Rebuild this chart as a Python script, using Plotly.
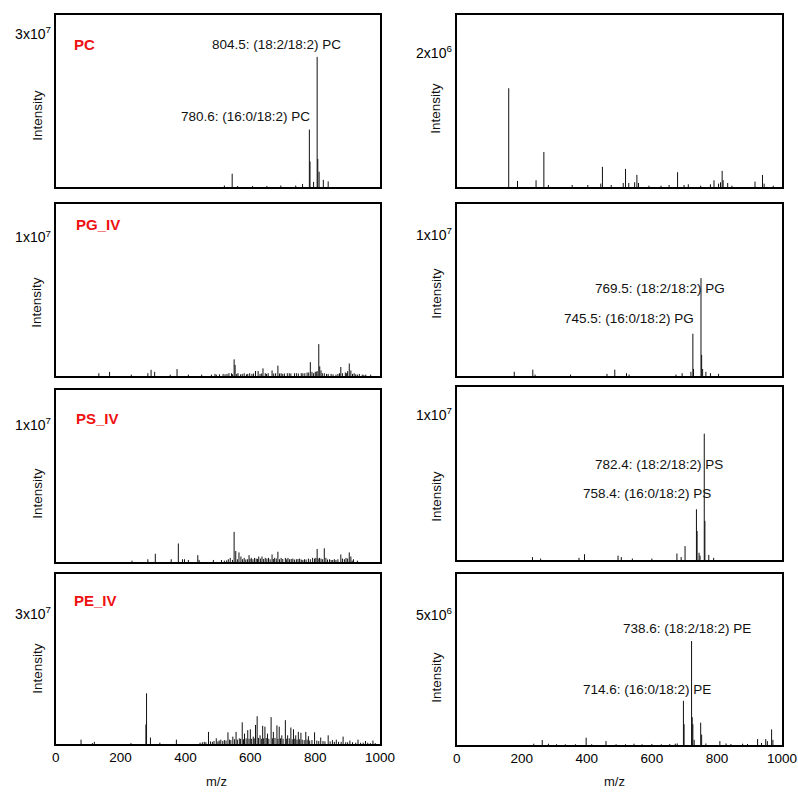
import plotly.graph_objects as go

W, H = 798, 792
# the page renders the figure about 15 px narrower than the window; positions below are
# given in window pixels and converted with the effective drawing width
W_EFF = 783

# ---------------- data: m/z positions and intensities ----------------
# Left column
pc_mz = [520, 544, 561, 607, 651, 694, 740, 761, 782, 784, 795, 806, 808, 812, 825, 840]
pc_int = [0.03e7, 0.26e7, 0.02e7, 0.02e7, 0.02e7, 0.03e7, 0.03e7, 0.06e7, 1.125e7, 0.5e7,
          0.1e7, 2.55e7, 0.55e7, 0.3e7, 0.14e7, 0.11e7]

pg_iv_mz = [133, 166, 233, 284, 294, 305, 353, 374, 409, 450, 491, 516, 534, 542, 550, 553,
            562, 581, 598, 616, 624, 639, 646, 667, 685, 700, 714, 736, 757, 775, 785, 790,
            803, 811, 814, 818, 828, 849, 864, 879, 884, 900, 905, 910, 920, 936, 956, 971]
pg_iv_int = [v * 1e7 for v in [0.02, 0.03, 0.01, 0.02, 0.045, 0.03, 0.01, 0.05, 0.01, 0.01,
                               0.015, 0.015, 0.02, 0.02, 0.12, 0.08, 0.02, 0.02, 0.02, 0.036,
                               0.036, 0.055, 0.02, 0.04, 0.075, 0.015, 0.02, 0.02, 0.02, 0.025,
                               0.1, 0.03, 0.03, 0.23, 0.07, 0.04, 0.02, 0.015, 0.01, 0.065,
                               0.02, 0.035, 0.09, 0.04, 0.02, 0.015, 0.01, 0.01]]
pg_iv_grass_mz = [480, 495, 505, 522, 528, 545, 558, 570, 575, 588, 592, 605, 610, 630, 635,
                  650, 655, 672, 678, 690, 695, 705, 720, 725, 742, 748, 762, 768, 780, 795,
                  800, 806, 822, 835, 840, 855, 870, 875, 893, 897, 915, 925, 930, 945, 950]
pg_iv_grass_int = [v * 1e7 for v in [0.01, 0.01, 0.012, 0.012, 0.015, 0.012, 0.015, 0.012,
                                     0.015, 0.012, 0.015, 0.015, 0.018, 0.015, 0.018, 0.015,
                                     0.02, 0.018, 0.02, 0.018, 0.02, 0.018, 0.02, 0.018, 0.02,
                                     0.018, 0.02, 0.02, 0.025, 0.02, 0.03, 0.035, 0.02, 0.015,
                                     0.015, 0.012, 0.015, 0.02, 0.025, 0.02, 0.015, 0.012,
                                     0.01, 0.01, 0.008]]

ps_iv_mz = [235, 284, 307, 356, 378, 391, 397, 409, 438, 442, 486, 511, 532, 538, 550, 555,
            565, 571, 581, 596, 603, 613, 626, 636, 646, 656, 667, 675, 685, 695, 708, 716,
            731, 752, 767, 779, 792, 806, 813, 818, 828, 833, 844, 859, 879, 890, 905, 910,
            918, 930]
ps_iv_int = [v * 1e7 for v in [0.01, 0.02, 0.06, 0.02, 0.135, 0.02, 0.02, 0.015, 0.05, 0.015,
                               0.015, 0.015, 0.02, 0.03, 0.22, 0.08, 0.07, 0.04, 0.03, 0.05,
                               0.03, 0.03, 0.04, 0.04, 0.03, 0.03, 0.055, 0.03, 0.075, 0.03,
                               0.03, 0.03, 0.025, 0.025, 0.02, 0.025, 0.03, 0.095, 0.03,
                               0.025, 0.1, 0.03, 0.02, 0.02, 0.055, 0.02, 0.07, 0.04, 0.02,
                               0.01]]
ps_iv_grass_mz = [520, 527, 545, 560, 576, 586, 591, 599, 608, 618, 622, 631, 641, 651, 661,
                  671, 680, 690, 700, 712, 721, 726, 736, 742, 747, 757, 762, 772, 785, 798,
                  802, 809, 823, 838, 849, 854, 864, 870, 884, 895, 900, 914]
ps_iv_grass_int = [v * 1e7 for v in [0.01, 0.012, 0.015, 0.02, 0.02, 0.018, 0.02, 0.022, 0.02,
                                     0.025, 0.022, 0.025, 0.022, 0.025, 0.02, 0.022, 0.025,
                                     0.02, 0.022, 0.02, 0.02, 0.022, 0.018, 0.02, 0.022, 0.018,
                                     0.015, 0.018, 0.02, 0.025, 0.03, 0.025, 0.02, 0.018, 0.015,
                                     0.015, 0.015, 0.02, 0.025, 0.03, 0.025, 0.01]]

pe_iv_mz = [78, 113, 119, 232, 278, 280, 292, 321, 372, 471, 495, 509, 531, 546, 556, 566,
            575, 582, 592, 600, 609, 616, 621, 630, 638, 645, 653, 664, 671, 682, 689, 697,
            708, 715, 725, 733, 740, 748, 756, 771, 779, 798, 817, 840, 853, 865, 886, 907,
            932, 955, 978]
pe_iv_int = [v * 1e7 for v in [0.1, 0.02, 0.05, 0.02, 0.45, 1.17, 0.15, 0.03, 0.1, 0.28, 0.13,
                               0.1, 0.27, 0.17, 0.28, 0.13, 0.5, 0.24, 0.32, 0.34, 0.17, 0.44,
                               0.64, 0.2, 0.42, 0.4, 0.24, 0.62, 0.28, 0.43, 0.4, 0.2, 0.55,
                               0.2, 0.38, 0.34, 0.2, 0.28, 0.26, 0.28, 0.18, 0.27, 0.15, 0.2,
                               0.09, 0.1, 0.17, 0.08, 0.1, 0.07, 0.08]]
pe_iv_grass_mz = [445, 452, 458, 463, 477, 483, 488, 500, 504, 515, 520, 525, 536, 540, 551,
                  560, 570, 579, 587, 596, 604, 612, 625, 634, 641, 649, 657, 668, 676, 685,
                  693, 701, 712, 720, 729, 737, 744, 752, 760, 766, 775, 783, 790, 805, 811,
                  824, 830, 846, 859, 872, 880, 894, 900, 915, 925, 940, 948, 962, 970, 985]
pe_iv_grass_int = [v * 1e7 for v in [0.03, 0.04, 0.05, 0.04, 0.06, 0.05, 0.07, 0.06, 0.08,
                                     0.07, 0.09, 0.08, 0.1, 0.09, 0.11, 0.1, 0.12, 0.11, 0.13,
                                     0.12, 0.12, 0.13, 0.14, 0.12, 0.13, 0.14, 0.12, 0.13, 0.14,
                                     0.12, 0.13, 0.12, 0.12, 0.13, 0.11, 0.12, 0.1, 0.11, 0.1,
                                     0.09, 0.1, 0.08, 0.09, 0.08, 0.07, 0.07, 0.06, 0.06, 0.05,
                                     0.05, 0.05, 0.04, 0.04, 0.04, 0.03, 0.03, 0.03, 0.03, 0.02,
                                     0.02]]

# Right column
rt_mz = [160, 187, 244, 268, 282, 355, 403, 443, 448, 475, 512, 519, 529, 547, 554, 559, 591,
         628, 653, 679, 699, 712, 750, 780, 791, 805, 811, 816, 819, 833, 846, 917, 940, 945, 973]
rt_int = [v * 1e6 for v in [1.47, 0.09, 0.1, 0.52, 0.03, 0.03, 0.03, 0.05, 0.3, 0.03, 0.06,
                            0.27, 0.06, 0.07, 0.18, 0.06, 0.02, 0.02, 0.03, 0.22, 0.03, 0.04,
                            0.02, 0.04, 0.1, 0.05, 0.07, 0.24, 0.1, 0.06, 0.02, 0.08, 0.18,
                            0.05, 0.02]]

pg_mz = [177, 234, 241, 350, 462, 486, 522, 530, 674, 693, 720, 726, 728, 751, 753, 756, 766,
         780, 805]
pg_int = [v * 1e7 for v in [0.03, 0.045, 0.01, 0.01, 0.015, 0.045, 0.02, 0.01, 0.01, 0.02,
                            0.03, 0.3, 0.05, 0.695, 0.15, 0.05, 0.03, 0.02, 0.015]]

ps_mz = [233, 258, 376, 393, 496, 506, 540, 600, 677, 690, 702, 737, 739, 745, 748, 761, 763,
         775, 790]
ps_int = [v * 1e7 for v in [0.02, 0.01, 0.015, 0.04, 0.03, 0.02, 0.01, 0.01, 0.045, 0.02,
                            0.096, 0.35, 0.2, 0.05, 0.03, 0.872, 0.27, 0.035, 0.015]]

pe_mz = [237, 263, 282, 307, 334, 365, 398, 415, 459, 490, 519, 545, 570, 600, 629, 655, 672,
         678, 697, 699, 722, 724, 726, 730, 750, 753, 766, 809, 828, 843, 879, 894, 925, 937,
         950, 955, 968, 972]
pe_int = [v * 1e6 for v in [0.05, 0.19, 0.05, 0.03, 0.03, 0.03, 0.28, 0.03, 0.15, 0.03, 0.03,
                            0.05, 0.03, 0.04, 0.03, 0.04, 0.05, 0.06, 1.7, 0.8, 4.0, 1.07, 0.8,
                            0.2, 0.86, 0.4, 0.06, 0.15, 0.06, 0.04, 0.05, 0.04, 0.23, 0.08,
                            0.23, 0.15, 0.6, 0.2]]

x_ticks = [0, 200, 400, 600, 800, 1000]

# ---------------- layout geometry (pixels) ----------------
def fx(p):
    return p / W_EFF

def fy(p):
    return 1 - p / H

LEFT = (52, 378)
RIGHT = (455, 782)

panels = [
    dict(xr=LEFT, yr=(15, 187), ymax=3.37e7, tv=3e7, tt="3x10<sup>7</sup>",
         data=[(pc_mz, pc_int)], xlabels=False),
    dict(xr=RIGHT, yr=(15, 187), ymax=2.56e6, tv=2e6, tt="2x10<sup>6</sup>",
         data=[(rt_mz, rt_int)], xlabels=False),
    dict(xr=LEFT, yr=(204, 376), ymax=1.242e7, tv=1e7, tt="1x10<sup>7</sup>",
         data=[(pg_iv_mz, pg_iv_int), (pg_iv_grass_mz, pg_iv_grass_int)], xlabels=False),
    dict(xr=RIGHT, yr=(204, 376), ymax=1.221e7, tv=1e7, tt="1x10<sup>7</sup>",
         data=[(pg_mz, pg_int)], xlabels=False),
    dict(xr=LEFT, yr=(390, 562), ymax=1.256e7, tv=1e7, tt="1x10<sup>7</sup>",
         data=[(ps_iv_mz, ps_iv_int), (ps_iv_grass_mz, ps_iv_grass_int)], xlabels=False),
    dict(xr=RIGHT, yr=(387, 560), ymax=1.194e7, tv=1e7, tt="1x10<sup>7</sup>",
         data=[(ps_mz, ps_int)], xlabels=False),
    dict(xr=LEFT, yr=(574, 744), ymax=3.925e7, tv=3e7, tt="3x10<sup>7</sup>",
         data=[(pe_iv_mz, pe_iv_int), (pe_iv_grass_mz, pe_iv_grass_int)], xlabels=True),
    dict(xr=RIGHT, yr=(574, 745), ymax=6.58e6, tv=5e6, tt="5x10<sup>6</sup>",
         data=[(pe_mz, pe_int)], xlabels=True),
]

FONT = "Liberation Sans, Arial, sans-serif"


def sticks(mz, inten):
    xs, ys = [], []
    for m, h in zip(mz, inten):
        xs += [m, m, None]
        ys += [0, h, None]
    return xs, ys


fig = go.Figure()
layout = {}
for i, p in enumerate(panels, start=1):
    suffix = "" if i == 1 else str(i)
    for mz, it in p["data"]:
        xs, ys = sticks(mz, it)
        fig.add_trace(go.Scatter(x=xs, y=ys, mode="lines",
                                 line=dict(color="#111111", width=1),
                                 xaxis="x" + suffix, yaxis="y" + suffix,
                                 showlegend=False, hoverinfo="skip", cliponaxis=True))
    layout["xaxis" + suffix] = dict(
        domain=[fx(p["xr"][0]), fx(p["xr"][1])], range=[0, 1000],
        anchor="y" + suffix, showline=True, linewidth=2, linecolor="black", mirror=True,
        ticks="", showgrid=False, zeroline=False, tickvals=x_ticks,
        showticklabels=p["xlabels"], tickfont=dict(family=FONT, size=13.5, color="black"))
    layout["yaxis" + suffix] = dict(
        domain=[fy(p["yr"][1]), fy(p["yr"][0])], range=[0, p["ymax"]],
        anchor="x" + suffix, showline=True, linewidth=2, linecolor="black", mirror=True,
        ticks="", showgrid=False, zeroline=False, tickvals=[p["tv"]], ticktext=[p["tt"]],
        tickfont=dict(family=FONT, size=14, color="black"))

annotations = []


def ann(text, x, y, size=13.5, color="#111", bold=False, angle=0):
    annotations.append(dict(
        text="<b>" + text + "</b>" if bold else text, x=fx(x), y=fy(y), xref="paper",
        yref="paper", showarrow=False, xanchor="center", yanchor="middle", textangle=angle,
        font=dict(family=FONT, size=size, color=color)))


# panel names
ann("PC", 81, 44, size=15, color="#ee1111", bold=True)
ann("PG_IV", 94, 224, size=15, color="#ee1111", bold=True)
ann("PS_IV", 94, 418, size=15, color="#ee1111", bold=True)
ann("PE_IV", 92, 600, size=15, color="#ee1111", bold=True)

# peak labels
ann("804.5: (18:2/18:2) PC", 274, 45)
ann("780.6: (16:0/18:2) PC", 243, 117)
ann("769.5: (18:2/18:2) PG", 659, 288)
ann("745.5: (16:0/18:2) PG", 628, 318)
ann("782.4: (18:2/18:2) PS", 658, 464)
ann("758.4: (16:0/18:2) PS", 646, 493)
ann("738.6: (18:2/18:2) PE", 687, 628)
ann("714.6: (16:0/18:2) PE", 646, 689)

# axis titles
for yc in (115, 302, 493, 668):
    ann("Intensity", 33, yc, size=13.5, angle=-90)
for yc in (108, 293, 496, 677):
    ann("Intensity", 434, yc, size=13.5, angle=-90)
ann("m/z", 214, 781, size=13)
ann("m/z", 614, 781, size=13)

fig.update_layout(
    width=W, height=H, margin=dict(l=0, r=0, t=0, b=0), autosize=False,
    paper_bgcolor="white", plot_bgcolor="white",
    annotations=annotations, showlegend=False, **layout)

fig.write_html("out.html")
